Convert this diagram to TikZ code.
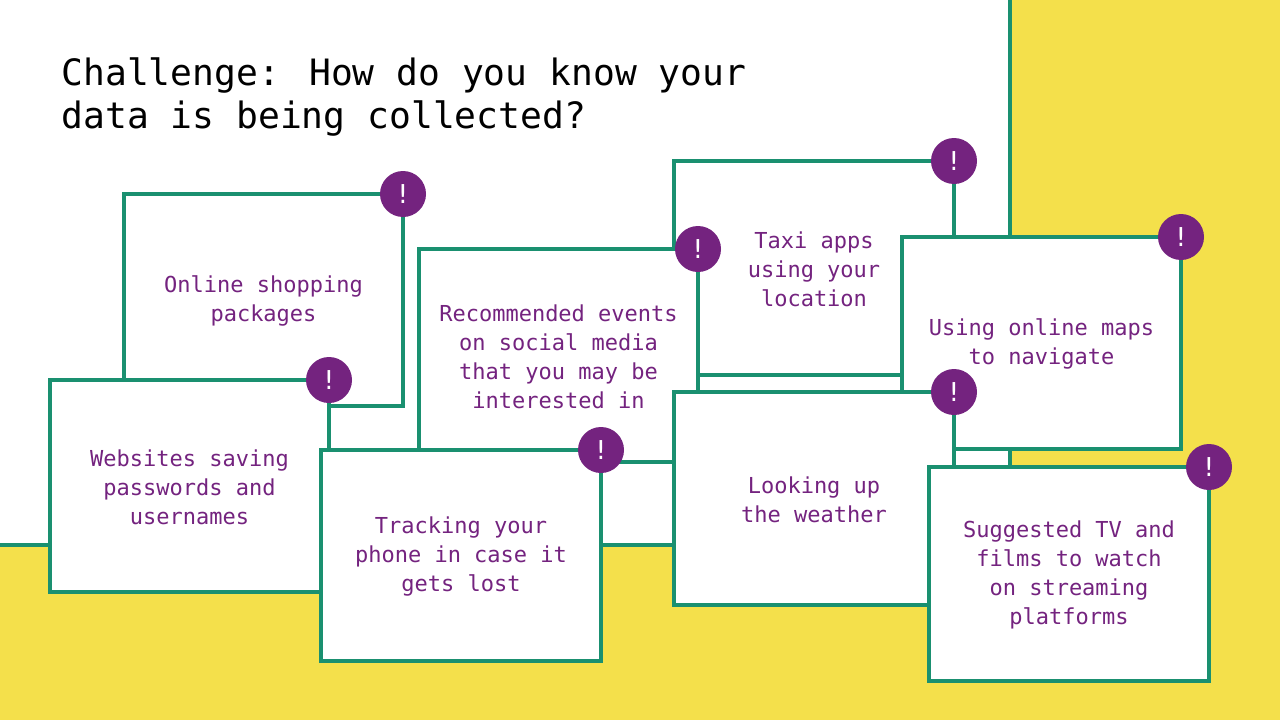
\documentclass[tikz,border=0pt]{standalone}
\usepackage{fontspec}
\setmainfont{DejaVu Sans Mono}
\begin{document}
\begin{tikzpicture}[x=1pt,y=-1pt,
  card/.style={draw=grn,line width=3.5pt,fill=white},
  txt/.style={text=purp,font=\fontsize{22}{29}\selectfont,align=center},
  badge/.style={circle,fill=purp,minimum size=46pt,inner sep=0pt,text=white,font=\fontsize{26}{26}\selectfont}]
\definecolor{grn}{HTML}{1A9070}
\definecolor{purp}{HTML}{74237F}
\definecolor{yel}{HTML}{F4E04B}
\useasboundingbox (0,0) rectangle (1280,720);
\fill[yel] (0,0) rectangle (1280,720);
\fill[white] (0,0) rectangle (1010,545);
\draw[grn,line width=3.5pt] (1010,0) -- (1010,545) -- (0,545);
\node[anchor=north west,align=left,font=\fontsize{36.3}{43}\selectfont] (title) at (58,54) {Challenge: How do you know your\\data is being collected?};
\def\card#1#2#3#4#5#6{%
  \draw[card] (#2,#3) rectangle (#4,#5);
  \node[txt] (#1) at ({(#2+#4)/2},{(#3+#5)/2+1}) {#6};
  \node[badge] (#1b) at (#4,#3) {!};}
\card{a}{124}{194}{403}{406}{Online shopping\\packages}
\card{c}{674}{161}{954}{375}{Taxi apps\\using your\\location}
\card{b}{419}{249}{698}{462}{Recommended events\\on social media\\that you may be\\interested in}
\card{d}{902}{237}{1181}{449}{Using online maps\\to navigate}
\card{e}{50}{380}{329}{592}{Websites saving\\passwords and\\usernames}
\card{f}{321}{450}{601}{661}{Tracking your\\phone in case it\\gets lost}
\card{g}{674}{392}{954}{605}{Looking up\\the weather}
\card{h}{929}{467}{1209}{681}{Suggested TV and\\films to watch\\on streaming\\platforms}
\end{tikzpicture}
\end{document}
